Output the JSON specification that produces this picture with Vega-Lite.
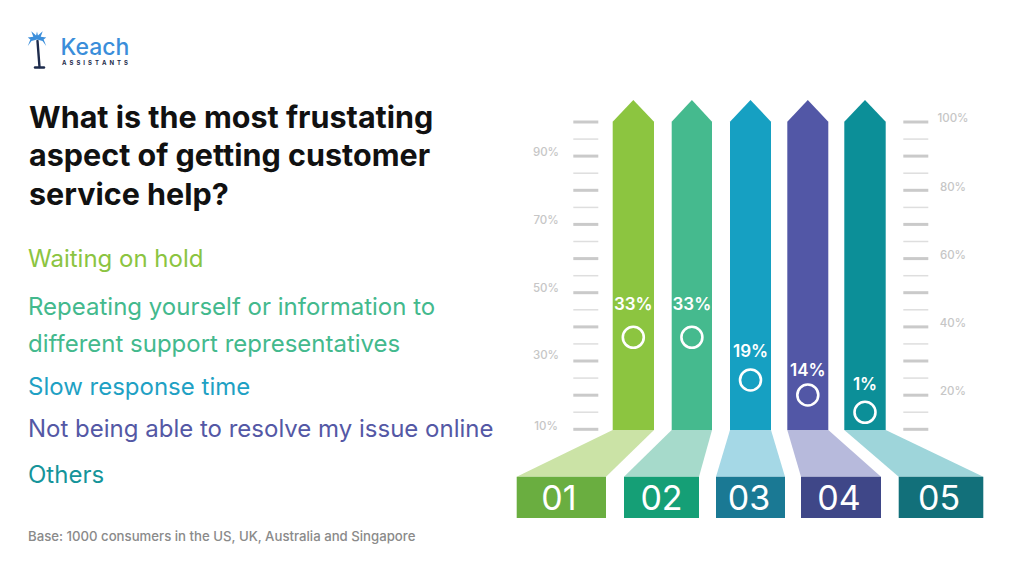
{
  "$schema": "https://vega.github.io/schema/vega-lite/v6.json",
  "width": 1024,
  "height": 576,
  "autosize": {"type": "fit", "contains": "padding"},
  "padding": 0,
  "background": "#ffffff",
  "config": {
    "view": {"stroke": null},
    "axis": {"disable": true},
    "text": {"font": "Inter"}
  },
  "datasets": {
    "arrow": [
      {"id": "01", "x": 612.7, "top": 121.7}, {"id": "01", "x": 633.3, "top": 100}, {"id": "01", "x": 654, "top": 121.7},
      {"id": "02", "x": 671.7, "top": 121.7}, {"id": "02", "x": 691.9, "top": 100}, {"id": "02", "x": 712, "top": 121.7},
      {"id": "03", "x": 730, "top": 121.7}, {"id": "03", "x": 750.5, "top": 100}, {"id": "03", "x": 771, "top": 121.7},
      {"id": "04", "x": 787.3, "top": 121.7}, {"id": "04", "x": 807.8, "top": 100}, {"id": "04", "x": 828.3, "top": 121.7},
      {"id": "05", "x": 844.3, "top": 121.7}, {"id": "05", "x": 865, "top": 100}, {"id": "05", "x": 885.7, "top": 121.7}
    ],
    "trap": [
      {"id": "01", "y": 430, "l": 612.7, "r": 654}, {"id": "01", "y": 476.7, "l": 516.7, "r": 606},
      {"id": "02", "y": 430, "l": 671.7, "r": 712}, {"id": "02", "y": 476.7, "l": 624, "r": 699},
      {"id": "03", "y": 430, "l": 730, "r": 771}, {"id": "03", "y": 476.7, "l": 716, "r": 785},
      {"id": "04", "y": 430, "l": 787.3, "r": 828.3}, {"id": "04", "y": 476.7, "l": 801, "r": 881},
      {"id": "05", "y": 430, "l": 844.3, "r": 885.7}, {"id": "05", "y": 476.7, "l": 898.7, "r": 983.3}
    ],
    "cats": [
      {"id": "01", "category": "Waiting on hold", "share": 0.33, "xc": 633.3, "ly": 310, "ry": 337.3, "bl": 516.7, "br": 606, "nc": 559},
      {"id": "02", "category": "Repeating yourself or information to different support representatives", "share": 0.33, "xc": 691.9, "ly": 310, "ry": 337.3, "bl": 624, "br": 699, "nc": 661.5},
      {"id": "03", "category": "Slow response time", "share": 0.19, "xc": 750.5, "ly": 356.7, "ry": 380, "bl": 716, "br": 785, "nc": 749},
      {"id": "04", "category": "Not being able to resolve my issue online", "share": 0.14, "xc": 807.8, "ly": 375.7, "ry": 395, "bl": 801, "br": 881, "nc": 839},
      {"id": "05", "category": "Others", "share": 0.01, "xc": 865, "ly": 390, "ry": 412.3, "bl": 898.7, "br": 983.3, "nc": 939}
    ],
    "ticks": [
      {"k": "major", "y": 122, "x0": 573.3, "x1": 598.3}, {"k": "major", "y": 156.1, "x0": 573.3, "x1": 598.3},
      {"k": "major", "y": 190.3, "x0": 573.3, "x1": 598.3}, {"k": "major", "y": 224.4, "x0": 573.3, "x1": 598.3},
      {"k": "major", "y": 258.6, "x0": 573.3, "x1": 598.3}, {"k": "major", "y": 292.7, "x0": 573.3, "x1": 598.3},
      {"k": "major", "y": 326.9, "x0": 573.3, "x1": 598.3}, {"k": "major", "y": 361, "x0": 573.3, "x1": 598.3},
      {"k": "major", "y": 395.2, "x0": 573.3, "x1": 598.3}, {"k": "major", "y": 429.3, "x0": 573.3, "x1": 598.3},
      {"k": "minor", "y": 139.1, "x0": 573.3, "x1": 598.3}, {"k": "minor", "y": 173.2, "x0": 573.3, "x1": 598.3},
      {"k": "minor", "y": 207.4, "x0": 573.3, "x1": 598.3}, {"k": "minor", "y": 241.5, "x0": 573.3, "x1": 598.3},
      {"k": "minor", "y": 275.7, "x0": 573.3, "x1": 598.3}, {"k": "minor", "y": 309.8, "x0": 573.3, "x1": 598.3},
      {"k": "minor", "y": 343.9, "x0": 573.3, "x1": 598.3}, {"k": "minor", "y": 378.1, "x0": 573.3, "x1": 598.3},
      {"k": "minor", "y": 412.2, "x0": 573.3, "x1": 598.3},
      {"k": "major", "y": 122, "x0": 903.3, "x1": 928.3}, {"k": "major", "y": 156.1, "x0": 903.3, "x1": 928.3},
      {"k": "major", "y": 190.3, "x0": 903.3, "x1": 928.3}, {"k": "major", "y": 224.4, "x0": 903.3, "x1": 928.3},
      {"k": "major", "y": 258.6, "x0": 903.3, "x1": 928.3}, {"k": "major", "y": 292.7, "x0": 903.3, "x1": 928.3},
      {"k": "major", "y": 326.9, "x0": 903.3, "x1": 928.3}, {"k": "major", "y": 361, "x0": 903.3, "x1": 928.3},
      {"k": "major", "y": 395.2, "x0": 903.3, "x1": 928.3}, {"k": "major", "y": 429.3, "x0": 903.3, "x1": 928.3},
      {"k": "minor", "y": 139.1, "x0": 903.3, "x1": 928.3}, {"k": "minor", "y": 173.2, "x0": 903.3, "x1": 928.3},
      {"k": "minor", "y": 207.4, "x0": 903.3, "x1": 928.3}, {"k": "minor", "y": 241.5, "x0": 903.3, "x1": 928.3},
      {"k": "minor", "y": 275.7, "x0": 903.3, "x1": 928.3}, {"k": "minor", "y": 309.8, "x0": 903.3, "x1": 928.3},
      {"k": "minor", "y": 343.9, "x0": 903.3, "x1": 928.3}, {"k": "minor", "y": 378.1, "x0": 903.3, "x1": 928.3},
      {"k": "minor", "y": 412.2, "x0": 903.3, "x1": 928.3}
    ],
    "tickLabels": [
      {"t": "90%", "x": 546, "y": 152.7}, {"t": "70%", "x": 546, "y": 220.7}, {"t": "50%", "x": 546, "y": 288.5},
      {"t": "30%", "x": 546, "y": 356}, {"t": "10%", "x": 546, "y": 426.5},
      {"t": "100%", "x": 953, "y": 118.7}, {"t": "80%", "x": 953, "y": 187.7}, {"t": "60%", "x": 953, "y": 255.7},
      {"t": "40%", "x": 953, "y": 324.3}, {"t": "20%", "x": 953, "y": 392.3}
    ],
    "title": [
      {"line": "What is the most frustating", "x": 29, "y": 127.7},
      {"line": "aspect of getting customer", "x": 29, "y": 166.4},
      {"line": "service help?", "x": 29, "y": 205}
    ],
    "items": [
      {"id": "01", "line": "Waiting on hold", "x": 28, "y": 266.7},
      {"id": "02", "line": "Repeating yourself or information to", "x": 28, "y": 315},
      {"id": "02", "line": "different support representatives", "x": 28, "y": 351.7},
      {"id": "03", "line": "Slow response time", "x": 28, "y": 395},
      {"id": "04", "line": "Not being able to resolve my issue online", "x": 28, "y": 436.7},
      {"id": "05", "line": "Others", "x": 28, "y": 483.3}
    ],
    "foot": [
      {"line": "Base: 1000 consumers in the US, UK, Australia and Singapore", "x": 28, "y": 540.7}
    ],
    "logoText": [
      {"t": "Keach", "x": 60.5, "y": 54.5, "part": "name"},
      {"t": "A\u2002S\u2002S\u2002I\u2002S\u2002T\u2002A\u2002N\u2002T\u2002S", "x": 62, "y": 64.5, "part": "sub"}
    ],
    "palm": [{"x": 37, "y": 40.5}],
    "trunk": [
      {"x": 37.5, "y": 41, "x2": 39.5, "y2": 67, "w": "trunk"},
      {"x": 35, "y": 67.5, "x2": 44, "y2": 67.5, "w": "base"}
    ]
  },
  "resolve": {"scale": {"color": "independent"}},
  "layer": [
    {
      "data": {"name": "arrow"},
      "mark": {"type": "area", "orient": "vertical", "interpolate": "linear"},
      "encoding": {
        "x": {"field": "x", "type": "quantitative", "scale": {"domain": [0, 1024], "nice": false, "zero": false}},
        "y": {"field": "top", "type": "quantitative", "stack": null, "scale": {"domain": [0, 576], "reverse": true, "nice": false, "zero": false}},
        "y2": {"datum": 430},
        "color": {"field": "id", "type": "nominal", "legend": null,
          "scale": {"domain": ["01", "02", "03", "04", "05"], "range": ["#8CC540", "#45BA8E", "#16A0C2", "#5257A6", "#0C8F98"]}},
        "detail": {"field": "id"}
      }
    },
    {
      "data": {"name": "trap"},
      "mark": {"type": "area", "orient": "horizontal", "interpolate": "linear"},
      "encoding": {
        "y": {"field": "y", "type": "quantitative", "scale": {"domain": [0, 576], "reverse": true, "nice": false, "zero": false}},
        "x": {"field": "l", "type": "quantitative", "stack": null, "scale": {"domain": [0, 1024], "nice": false, "zero": false}},
        "x2": {"field": "r"},
        "color": {"field": "id", "type": "nominal", "legend": null,
          "scale": {"domain": ["01", "02", "03", "04", "05"], "range": ["#CBE3A6", "#A6DACB", "#A5D8E6", "#B7BADC", "#9ED5DA"]}},
        "detail": {"field": "id"}
      }
    },
    {
      "data": {"name": "cats"},
      "mark": {"type": "rect"},
      "encoding": {
        "x": {"field": "bl", "type": "quantitative", "scale": {"domain": [0, 1024], "nice": false, "zero": false}},
        "x2": {"field": "br"},
        "y": {"datum": 476.7, "type": "quantitative", "scale": {"domain": [0, 576], "reverse": true, "nice": false, "zero": false}},
        "y2": {"datum": 518},
        "color": {"field": "id", "type": "nominal", "legend": null,
          "scale": {"domain": ["01", "02", "03", "04", "05"], "range": ["#6AAE40", "#159F76", "#1A7994", "#3F4788", "#12707A"]}}
      }
    },
    {
      "data": {"name": "cats"},
      "mark": {"type": "text", "align": "center", "baseline": "alphabetic", "fontSize": 34, "fontWeight": 400, "fill": "#ffffff"},
      "encoding": {
        "x": {"field": "nc", "type": "quantitative", "scale": {"domain": [0, 1024], "nice": false, "zero": false}},
        "y": {"datum": 510, "type": "quantitative", "scale": {"domain": [0, 576], "reverse": true, "nice": false, "zero": false}},
        "text": {"field": "id", "type": "nominal"}
      }
    },
    {
      "data": {"name": "ticks"},
      "transform": [{"filter": "datum.k == 'minor'"}],
      "mark": {"type": "rule", "stroke": "#DEDEDE", "strokeWidth": 1.5},
      "encoding": {
        "x": {"field": "x0", "type": "quantitative", "scale": {"domain": [0, 1024], "nice": false, "zero": false}},
        "x2": {"field": "x1"},
        "y": {"field": "y", "type": "quantitative", "scale": {"domain": [0, 576], "reverse": true, "nice": false, "zero": false}}
      }
    },
    {
      "data": {"name": "ticks"},
      "transform": [{"filter": "datum.k == 'major'"}],
      "mark": {"type": "rule", "stroke": "#CACACA", "strokeWidth": 3},
      "encoding": {
        "x": {"field": "x0", "type": "quantitative", "scale": {"domain": [0, 1024], "nice": false, "zero": false}},
        "x2": {"field": "x1"},
        "y": {"field": "y", "type": "quantitative", "scale": {"domain": [0, 576], "reverse": true, "nice": false, "zero": false}}
      }
    },
    {
      "data": {"name": "tickLabels"},
      "mark": {"type": "text", "align": "center", "baseline": "middle", "fontSize": 11.5, "fontWeight": 500, "fill": "#C6C6C6"},
      "encoding": {
        "x": {"field": "x", "type": "quantitative", "scale": {"domain": [0, 1024], "nice": false, "zero": false}},
        "y": {"field": "y", "type": "quantitative", "scale": {"domain": [0, 576], "reverse": true, "nice": false, "zero": false}},
        "text": {"field": "t", "type": "nominal"}
      }
    },
    {
      "data": {"name": "cats"},
      "mark": {"type": "text", "align": "center", "baseline": "alphabetic", "fontSize": 17, "fontWeight": 600, "fill": "#ffffff"},
      "encoding": {
        "x": {"field": "xc", "type": "quantitative", "scale": {"domain": [0, 1024], "nice": false, "zero": false}},
        "y": {"field": "ly", "type": "quantitative", "scale": {"domain": [0, 576], "reverse": true, "nice": false, "zero": false}},
        "text": {"field": "share", "type": "quantitative", "format": ".0%"}
      }
    },
    {
      "data": {"name": "cats"},
      "mark": {"type": "point", "shape": "circle", "filled": false, "stroke": "#ffffff", "strokeWidth": 2.6, "size": 440, "opacity": 1},
      "encoding": {
        "x": {"field": "xc", "type": "quantitative", "scale": {"domain": [0, 1024], "nice": false, "zero": false}},
        "y": {"field": "ry", "type": "quantitative", "scale": {"domain": [0, 576], "reverse": true, "nice": false, "zero": false}}
      }
    },
    {
      "data": {"name": "title"},
      "mark": {"type": "text", "align": "left", "baseline": "alphabetic", "fontSize": 30.5, "fontWeight": 700, "fill": "#111111"},
      "encoding": {
        "x": {"field": "x", "type": "quantitative", "scale": {"domain": [0, 1024], "nice": false, "zero": false}},
        "y": {"field": "y", "type": "quantitative", "scale": {"domain": [0, 576], "reverse": true, "nice": false, "zero": false}},
        "text": {"field": "line", "type": "nominal"}
      }
    },
    {
      "data": {"name": "items"},
      "mark": {"type": "text", "align": "left", "baseline": "alphabetic", "fontSize": 24, "fontWeight": 400},
      "encoding": {
        "x": {"field": "x", "type": "quantitative", "scale": {"domain": [0, 1024], "nice": false, "zero": false}},
        "y": {"field": "y", "type": "quantitative", "scale": {"domain": [0, 576], "reverse": true, "nice": false, "zero": false}},
        "text": {"field": "line", "type": "nominal"},
        "color": {"field": "id", "type": "nominal", "legend": null,
          "scale": {"domain": ["01", "02", "03", "04", "05"], "range": ["#8BC441", "#43B98D", "#1FA1C4", "#5458A5", "#15949A"]}}
      }
    },
    {
      "data": {"name": "foot"},
      "mark": {"type": "text", "align": "left", "baseline": "alphabetic", "fontSize": 13.2, "fontWeight": 500, "fill": "#8A8A8A"},
      "encoding": {
        "x": {"field": "x", "type": "quantitative", "scale": {"domain": [0, 1024], "nice": false, "zero": false}},
        "y": {"field": "y", "type": "quantitative", "scale": {"domain": [0, 576], "reverse": true, "nice": false, "zero": false}},
        "text": {"field": "line", "type": "nominal"}
      }
    },
    {
      "data": {"name": "trunk"},
      "mark": {"type": "rule", "stroke": "#1D2B4C", "strokeWidth": 2.4, "strokeCap": "round"},
      "encoding": {
        "x": {"field": "x", "type": "quantitative", "scale": {"domain": [0, 1024], "nice": false, "zero": false}},
        "x2": {"field": "x2"},
        "y": {"field": "y", "type": "quantitative", "scale": {"domain": [0, 576], "reverse": true, "nice": false, "zero": false}},
        "y2": {"field": "y2"}
      }
    },
    {
      "data": {"name": "palm"},
      "mark": {"type": "point", "filled": true, "fill": "#3C8FDB", "opacity": 1, "size": 340,
        "shape": "M0,-0.1 L-0.6,0.05 L-1,0.6 L-0.72,-0.12 L-1,-0.32 L-0.4,-0.42 L-0.62,-1 L-0.1,-0.55 L0,-0.98 L0.1,-0.55 L0.62,-1 L0.4,-0.42 L1,-0.32 L0.72,-0.12 L1,0.6 L0.6,0.05 Z"},
      "encoding": {
        "x": {"field": "x", "type": "quantitative", "scale": {"domain": [0, 1024], "nice": false, "zero": false}},
        "y": {"field": "y", "type": "quantitative", "scale": {"domain": [0, 576], "reverse": true, "nice": false, "zero": false}}
      }
    },
    {
      "data": {"name": "logoText"},
      "transform": [{"filter": "datum.part == 'name'"}],
      "mark": {"type": "text", "align": "left", "baseline": "alphabetic", "fontSize": 23, "fontWeight": 500, "fill": "#3A8EDA"},
      "encoding": {
        "x": {"field": "x", "type": "quantitative", "scale": {"domain": [0, 1024], "nice": false, "zero": false}},
        "y": {"field": "y", "type": "quantitative", "scale": {"domain": [0, 576], "reverse": true, "nice": false, "zero": false}},
        "text": {"field": "t", "type": "nominal"}
      }
    },
    {
      "data": {"name": "logoText"},
      "transform": [{"filter": "datum.part == 'sub'"}],
      "mark": {"type": "text", "align": "left", "baseline": "alphabetic", "fontSize": 6, "fontWeight": 700, "fill": "#1D2B4C"},
      "encoding": {
        "x": {"field": "x", "type": "quantitative", "scale": {"domain": [0, 1024], "nice": false, "zero": false}},
        "y": {"field": "y", "type": "quantitative", "scale": {"domain": [0, 576], "reverse": true, "nice": false, "zero": false}},
        "text": {"field": "t", "type": "nominal"}
      }
    }
  ]
}
